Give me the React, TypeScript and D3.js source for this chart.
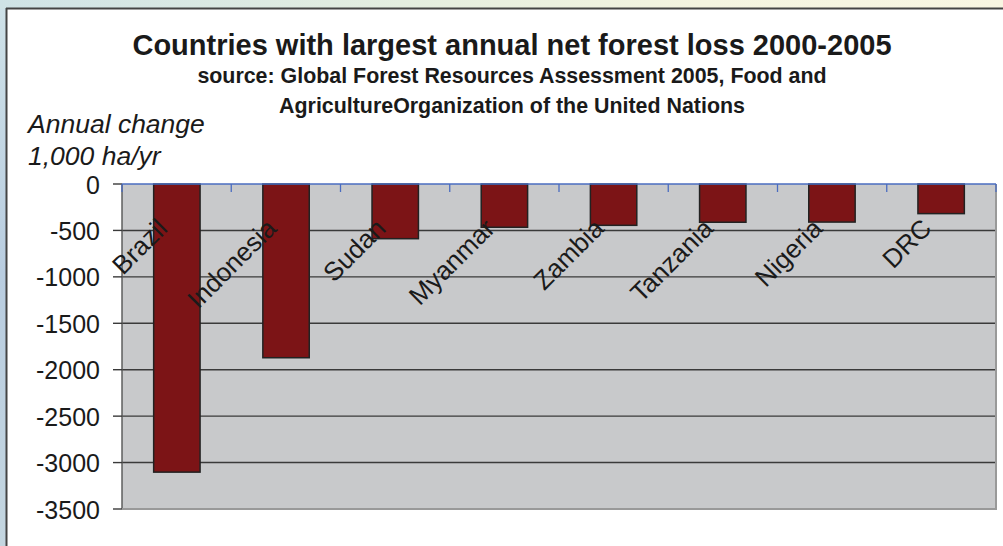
import React from 'react';
import * as d3 from 'd3';

const countries = ['Brazil', 'Indonesia', 'Sudan', 'Myanmar', 'Zambia', 'Tanzania', 'Nigeria', 'DRC'];
const annualChange = [-3103, -1871, -589, -466, -445, -412, -410, -319];
const yTicks = [0, -500, -1000, -1500, -2000, -2500, -3000, -3500];

const titleText = 'Countries with largest annual net forest loss 2000-2005';
const subtitleLines = [
  'source: Global Forest Resources Assessment 2005, Food and',
  'AgricultureOrganization of the United Nations',
];
const yAxisLines = ['Annual change', '1,000 ha/yr'];

const W = 1003;
const H = 546;
const FONT = '"Liberation Sans", Arial, Helvetica, sans-serif';

export default function App() {
  const plot = { left: 122, right: 996, top: 184, bottom: 509 };
  const y = d3.scaleLinear().domain([0, -3500]).range([plot.top, plot.bottom]);
  const x = d3
    .scaleBand<string>()
    .domain(countries)
    .range([plot.left, plot.right])
    .paddingInner(0.575)
    .paddingOuter(0.29);
  const slot = (plot.right - plot.left) / countries.length;

  return (
    <svg
      width={W}
      height={H}
      style={{ position: 'absolute', left: 0, top: 0, display: 'block' }}
      fontFamily={FONT}
    >
      <defs>
        <linearGradient id="topbg" x1="0" x2="1" y1="0" y2="0">
          <stop offset="0" stopColor="#cfe3e6" />
          <stop offset="0.4" stopColor="#e4eee0" />
          <stop offset="0.7" stopColor="#f4f4e0" />
          <stop offset="1" stopColor="#f8f6e2" />
        </linearGradient>
        <linearGradient id="leftbg" x1="0" x2="0" y1="0" y2="1">
          <stop offset="0" stopColor="#cfe2e8" />
          <stop offset="0.5" stopColor="#b9cde0" />
          <stop offset="1" stopColor="#c4d6e0" />
        </linearGradient>
      </defs>
      {/* background outside panel */}
      <rect x={0} y={0} width={W} height={H} fill="url(#leftbg)" />
      <rect x={0} y={0} width={W} height={9} fill="url(#topbg)" />
      {/* white panel */}
      <rect x={7} y={9} width={W} height={H} fill="#ffffff" />
      <line x1={6.5} y1={8} x2={6.5} y2={H} stroke="#444" strokeWidth={2} />
      <line x1={6} y1={8.5} x2={W} y2={8.5} stroke="#444" strokeWidth={2} />

      {/* title */}
      <text x={512} y={55} textAnchor="middle" fontSize={29} fontWeight="bold" fill="#1a1a1a">
        {titleText}
      </text>
      {subtitleLines.map((s, i) => (
        <text key={i} x={512} y={83 + i * 30} textAnchor="middle" fontSize={21.4} fontWeight="bold" fill="#1a1a1a">
          {s}
        </text>
      ))}
      {yAxisLines.map((s, i) => (
        <text key={i} x={28} y={133 + i * 32} fontSize={26.5} fontStyle="italic" fill="#1a1a1a">
          {s}
        </text>
      ))}

      {/* plot background */}
      <rect x={plot.left} y={plot.top} width={plot.right - plot.left} height={plot.bottom - plot.top} fill="#c8c9cb" />

      {/* gridlines */}
      {yTicks
        .filter((t) => t !== 0 && t !== -3500)
        .map((t) => (
          <line key={t} x1={plot.left} x2={plot.right} y1={y(t)} y2={y(t)} stroke="#3a3a3a" strokeWidth={1.4} />
        ))}

      {/* borders */}
      <line x1={plot.left} x2={plot.left} y1={plot.top} y2={plot.bottom} stroke="#555" strokeWidth={1.4} />
      <line x1={plot.right} x2={plot.right} y1={plot.top} y2={plot.bottom + 1} stroke="#999" strokeWidth={2} />
      <line x1={plot.left} x2={plot.right + 1} y1={plot.bottom} y2={plot.bottom} stroke="#999" strokeWidth={2} />

      {/* y ticks & labels */}
      {yTicks.map((t) => (
        <g key={t}>
          <line x1={113} x2={plot.left} y1={y(t)} y2={y(t)} stroke="#3a3a3a" strokeWidth={1.4} />
          <text x={100} y={y(t)} dy="0.38em" textAnchor="end" fontSize={25} fill="#1a1a1a">
            {t}
          </text>
        </g>
      ))}

      {/* bars */}
      {countries.map((c, i) => (
        <rect
          key={c}
          x={x(c)}
          y={y(0)}
          width={x.bandwidth()}
          height={y(annualChange[i]) - y(0)}
          fill="#7c1416"
          stroke="#222"
          strokeWidth={1.5}
        />
      ))}

      {/* zero line with category ticks */}
      <line x1={plot.left} x2={plot.right} y1={y(0)} y2={y(0)} stroke="#4a6cc0" strokeWidth={1.5} />
      {d3.range(countries.length + 1).map((i) => (
        <line
          key={i}
          x1={plot.left + i * slot}
          x2={plot.left + i * slot}
          y1={y(0)}
          y2={y(0) + 8}
          stroke="#4a6cc0"
          strokeWidth={1.3}
        />
      ))}

      {/* category labels */}
      {countries.map((c) => {
        const cx = (x(c) as number) + x.bandwidth() / 2;
        return (
          <text
            key={c}
            transform={`translate(${cx - 8},${230}) rotate(-45)`}
            textAnchor="end"
            fontSize={26}
            fill="#1a1a1a"
          >
            {c}
          </text>
        );
      })}
    </svg>
  );
}
